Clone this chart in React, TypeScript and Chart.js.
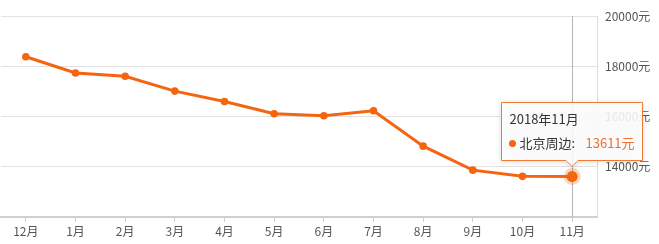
import React, { useEffect, useRef } from 'react';
import { Chart, registerables } from 'chart.js';

Chart.register(...registerables);

const categories = ['12月', '1月', '2月', '3月', '4月', '5月', '6月', '7月', '8月', '9月', '10月', '11月'];
const prices = [18380, 17730, 17600, 17010, 16600, 16110, 16030, 16230, 14820, 13865, 13618, 13611];
const yMin = 12000;
const yMax = 20000;
const yStep = 2000;
const unit = '元';
const seriesName = '北京周边';
const tooltipTitle = '2018年11月';
const activeIndex = 11;

const LINE = '#f5650f';
const FONT = '"Microsoft YaHei", "Noto Sans CJK SC", sans-serif';

const overlayPlugin = {
  id: 'overlay',
  beforeDatasetsDraw(chart: any) {
    const { ctx, chartArea } = chart;
    const meta = chart.getDatasetMeta(0);
    const p = meta.data[activeIndex];
    if (!p) return;
    ctx.save();
    ctx.strokeStyle = '#b4b4b4';
    ctx.lineWidth = 1;
    ctx.beginPath();
    const x = Math.round(p.x) + 0.5;
    ctx.moveTo(x, chartArea.top);
    ctx.lineTo(x, chartArea.bottom);
    ctx.stroke();
    ctx.restore();
  },
  afterDatasetsDraw(chart: any) {
    const { ctx } = chart;
    const meta = chart.getDatasetMeta(0);
    const p = meta.data[activeIndex];
    if (!p) return;
    ctx.save();
    ctx.fillStyle = 'rgba(245,101,15,0.28)';
    ctx.beginPath();
    ctx.arc(p.x, p.y, 8.5, 0, Math.PI * 2);
    ctx.fill();
    ctx.fillStyle = LINE;
    ctx.beginPath();
    ctx.arc(p.x, p.y, 5.5, 0, Math.PI * 2);
    ctx.fill();
    ctx.restore();
  },
  afterDraw(chart: any) {
    const { ctx } = chart;
    const meta = chart.getDatasetMeta(0);
    const p = meta.data[activeIndex];
    if (!p) return;
    const w = 141;
    const h = 58;
    const cx = Math.round(p.x);
    const left = cx - 70.5;
    const bottom = Math.round(p.y) - 16.5;
    const top = bottom - h;
    const right = left + w;
    const ah = 6;
    ctx.save();
    ctx.shadowColor = 'rgba(0,0,0,0.18)';
    ctx.shadowBlur = 6;
    ctx.shadowOffsetY = 1;
    ctx.beginPath();
    ctx.moveTo(left, top);
    ctx.lineTo(right, top);
    ctx.lineTo(right, bottom);
    ctx.lineTo(cx + ah, bottom);
    ctx.lineTo(cx, bottom + ah);
    ctx.lineTo(cx - ah, bottom);
    ctx.lineTo(left, bottom);
    ctx.closePath();
    ctx.fillStyle = 'rgba(255,255,255,0.88)';
    ctx.fill();
    ctx.shadowColor = 'transparent';
    ctx.strokeStyle = '#f07a33';
    ctx.lineWidth = 1;
    ctx.stroke();

    ctx.textBaseline = 'middle';
    ctx.textAlign = 'left';
    ctx.font = `13px ${FONT}`;
    ctx.fillStyle = '#333';
    ctx.fillText(tooltipTitle, left + 8, top + 17);

    const rowY = top + 41;
    ctx.fillStyle = LINE;
    ctx.beginPath();
    ctx.arc(left + 11, rowY, 3.5, 0, Math.PI * 2);
    ctx.fill();
    ctx.fillStyle = '#333';
    ctx.fillText(seriesName + ':', left + 18, rowY);
    ctx.fillStyle = '#e8703a';
    ctx.fillText(`${prices[activeIndex]}${unit}`, left + 84, rowY);
    ctx.restore();
  },
};

export default function App() {
  const ref = useRef<HTMLCanvasElement>(null);

  useEffect(() => {
    if (!ref.current) return;
    const chart = new Chart(ref.current, {
      type: 'line',
      data: {
        labels: categories,
        datasets: [
          {
            data: prices,
            borderColor: LINE,
            backgroundColor: LINE,
            borderWidth: 3,
            pointRadius: 3.8,
            pointBackgroundColor: LINE,
            pointBorderWidth: 0,
            tension: 0,
            fill: false,
          },
        ],
      },
      options: {
        responsive: false,
        animation: false,
        events: [],
        layout: { padding: { top: 16, left: 0, right: 0, bottom: 0 } },
        plugins: {
          legend: { display: false },
          tooltip: { enabled: false },
        },
        scales: {
          x: {
            type: 'category',
            offset: true,
            grid: {
              offset: false,
              drawOnChartArea: false,
              drawTicks: true,
              tickLength: 5,
              color: '#cfcfcf',
            },
            border: { display: true, color: '#cfcfcf', width: 2 },
            ticks: {
              color: '#555',
              padding: 2,
              maxRotation: 0,
              autoSkip: false,
              font: { size: 12, family: FONT },
            },
            afterFit(scale: any) {
              scale.height = 27;
            },
          },
          y: {
            position: 'right',
            min: yMin,
            max: yMax,
            grid: {
              color: '#e2e2e2',
              drawTicks: false,
              lineWidth: 1,
            },
            border: { display: true, color: '#dcdcdc', width: 1 },
            ticks: {
              stepSize: yStep,
              padding: 8,
              color: '#555',
              font: { size: 12, family: FONT },
              callback: (v: any) => (Number(v) === yMin ? '' : `${v}${unit}`),
            },
            afterFit(scale: any) {
              scale.width = 62;
            },
          },
        },
      },
      plugins: [overlayPlugin],
    });
    return () => chart.destroy();
  }, []);

  return (
    <div style={{ position: 'absolute', left: -3, top: 0, width: 662, height: 244 }}>
      <canvas ref={ref} width={662} height={244} style={{ width: 662, height: 244, display: 'block' }} />
    </div>
  );
}
